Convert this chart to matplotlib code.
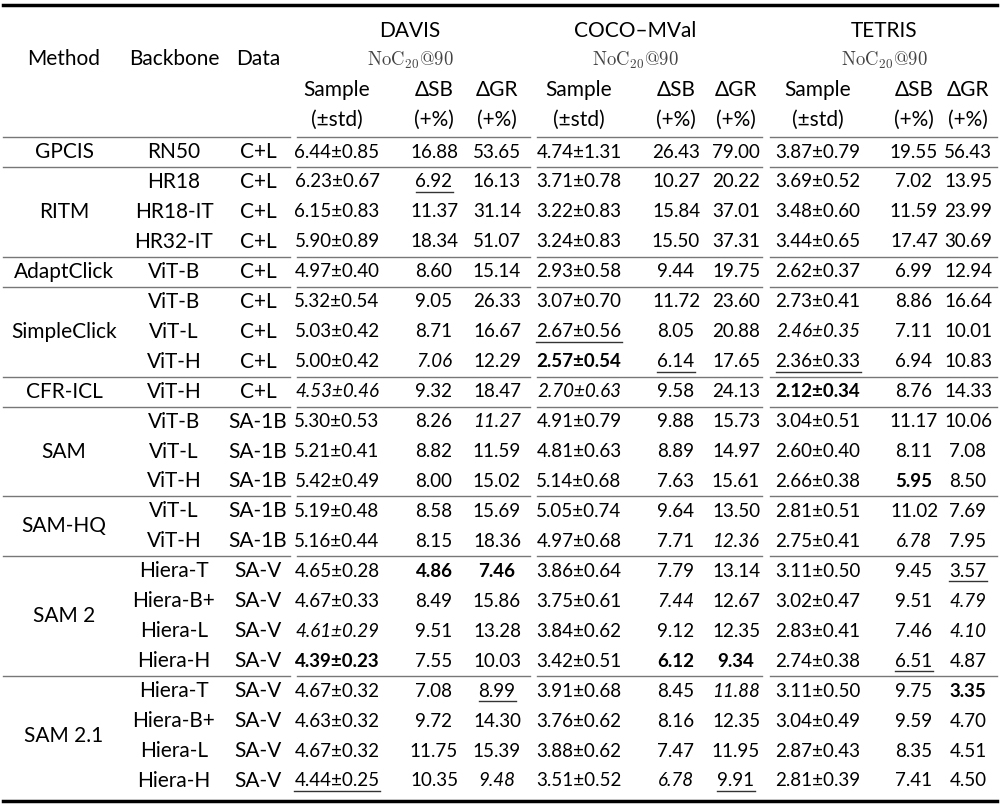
import matplotlib
matplotlib.use("Agg")
import matplotlib.pyplot as plt

plt.rcParams['mathtext.fontset'] = 'cm'
FONT = 'Lato'; FS = 13.5; FS_LBL = 15

methods = [("GPCIS", 1), ("RITM", 3), ("AdaptClick", 1), ("SimpleClick", 3), ("CFR-ICL", 1),
           ("SAM", 3), ("SAM-HQ", 2), ("SAM 2", 4), ("SAM 2.1", 4)]
backbones = ["RN50", "HR18", "HR18-IT", "HR32-IT", "ViT-B", "ViT-B", "ViT-L", "ViT-H", "ViT-H",
             "ViT-B", "ViT-L", "ViT-H", "ViT-L", "ViT-H",
             "Hiera-T", "Hiera-B+", "Hiera-L", "Hiera-H", "Hiera-T", "Hiera-B+", "Hiera-L", "Hiera-H"]
data_src = ["C+L"] * 9 + ["SA-1B"] * 5 + ["SA-V"] * 8
# markers: * bold, _ underline, / italic
davis = [
    "6.44±0.85 16.88 53.65", "6.23±0.67 _6.92 16.13", "6.15±0.83 11.37 31.14", "5.90±0.89 18.34 51.07",
    "4.97±0.40 8.60 15.14", "5.32±0.54 9.05 26.33", "5.03±0.42 8.71 16.67", "5.00±0.42 /7.06 12.29",
    "/4.53±0.46 9.32 18.47", "5.30±0.53 8.26 /11.27", "5.21±0.41 8.82 11.59", "5.42±0.49 8.00 15.02",
    "5.19±0.48 8.58 15.69", "5.16±0.44 8.15 18.36", "4.65±0.28 *4.86 *7.46", "4.67±0.33 8.49 15.86",
    "/4.61±0.29 9.51 13.28", "*4.39±0.23 7.55 10.03", "4.67±0.32 7.08 _8.99", "4.63±0.32 9.72 14.30",
    "4.67±0.32 11.75 15.39", "_4.44±0.25 10.35 /9.48"]
coco = [
    "4.74±1.31 26.43 79.00", "3.71±0.78 10.27 20.22", "3.22±0.83 15.84 37.01", "3.24±0.83 15.50 37.31",
    "2.93±0.58 9.44 19.75", "3.07±0.70 11.72 23.60", "_2.67±0.56 8.05 20.88", "*2.57±0.54 _6.14 17.65",
    "/2.70±0.63 9.58 24.13", "4.91±0.79 9.88 15.73", "4.81±0.63 8.89 14.97", "5.14±0.68 7.63 15.61",
    "5.05±0.74 9.64 13.50", "4.97±0.68 7.71 /12.36", "3.86±0.64 7.79 13.14", "3.75±0.61 /7.44 12.67",
    "3.84±0.62 9.12 12.35", "3.42±0.51 *6.12 *9.34", "3.91±0.68 8.45 /11.88", "3.76±0.62 8.16 12.35",
    "3.88±0.62 7.47 11.95", "3.51±0.52 /6.78 _9.91"]
tetris = [
    "3.87±0.79 19.55 56.43", "3.69±0.52 7.02 13.95", "3.48±0.60 11.59 23.99", "3.44±0.65 17.47 30.69",
    "2.62±0.37 6.99 12.94", "2.73±0.41 8.86 16.64", "/2.46±0.35 7.11 10.01", "_2.36±0.33 6.94 10.83",
    "*2.12±0.34 8.76 14.33", "3.04±0.51 11.17 10.06", "2.60±0.40 8.11 7.08", "2.66±0.38 *5.95 8.50",
    "2.81±0.51 11.02 7.69", "2.75±0.41 /6.78 7.95", "3.11±0.50 9.45 _3.57", "3.02±0.47 9.51 /4.79",
    "2.83±0.41 7.46 /4.10", "2.74±0.38 _6.51 4.87", "3.11±0.50 9.75 *3.35", "3.04±0.49 9.59 4.70",
    "2.87±0.43 8.35 4.51", "2.81±0.39 7.41 4.50"]
datasets = ["DAVIS", "COCO–MVal", "TETRIS"]

fig = plt.figure(figsize=(10, 8.05), dpi=100)
ax = fig.add_axes([0, 0, 1, 1]); ax.set_xlim(0, 1000); ax.set_ylim(805, 0); ax.axis("off")

col_x = [[337, 434, 497], [579, 676, 736], [818, 914, 968]]
grp_x = [410, 635, 884]
segs = [(3, 290), (297, 530), (537, 762), (770, 997)]
row0, pitch = 152, 29.95
rows_y = [row0 + i * pitch for i in range(len(backbones))]

fig.canvas.draw()
rend = fig.canvas.get_renderer()

def put(x, y, s, fs=FS, **kw):
    weight, style, ul = "normal", "normal", False
    if s.startswith("*"): weight, s = "bold", s[1:]
    elif s.startswith("/"): style, s = "italic", s[1:]
    elif s.startswith("_"): ul, s = True, s[1:]
    t = ax.text(x, y, s, ha="center", va="center", fontsize=fs, family=FONT,
                fontweight=weight, fontstyle=style, **kw)
    if ul:
        bb = t.get_window_extent(rend).transformed(ax.transData.inverted())
        ax.plot([bb.x0, bb.x1], [y + 10, y + 10], color="#333", lw=1)

# header
put(64, 59, "Method", FS_LBL); put(174, 59, "Backbone", FS_LBL); put(258, 59, "Data", FS_LBL)
for g, gx in enumerate(grp_x):
    put(gx, 31, datasets[g], FS_LBL)
    ax.text(gx, 60, r"$\mathrm{NoC}_{20}@90$", ha="center", va="center", fontsize=FS, color="#444")
    for j, (a, b) in enumerate([("Sample", "(±std)"), ("ΔSB", "(+%)"), ("ΔGR", "(+%)")]):
        put(col_x[g][j], 90, a, FS_LBL); put(col_x[g][j], 120, b, FS_LBL)

# body
start = 0
for name, n in methods:
    ys = rows_y[start:start + n]
    put(64, (ys[0] + ys[-1]) / 2, name, FS_LBL)
    start += n
for i, y in enumerate(rows_y):
    put(174, y, backbones[i], FS_LBL); put(258, y, data_src[i], FS_LBL)
    for g, col in enumerate([davis, coco, tetris]):
        for j, s in enumerate(col[i].split()):
            put(col_x[g][j], y, s)

# rules
ax.plot([3, 997], [5, 5], color="k", lw=2.5)
ax.plot([3, 997], [801, 801], color="k", lw=2.5)
for a, b in segs:
    ax.plot([a, b], [137, 137], color="#777", lw=1)
start = 0
for name, n in methods[:-1]:
    start += n
    y = (rows_y[start - 1] + rows_y[start]) / 2
    for a, b in segs:
        ax.plot([a, b], [y, y], color="#777", lw=1)

fig.savefig("out.png", dpi=100, facecolor="white")
